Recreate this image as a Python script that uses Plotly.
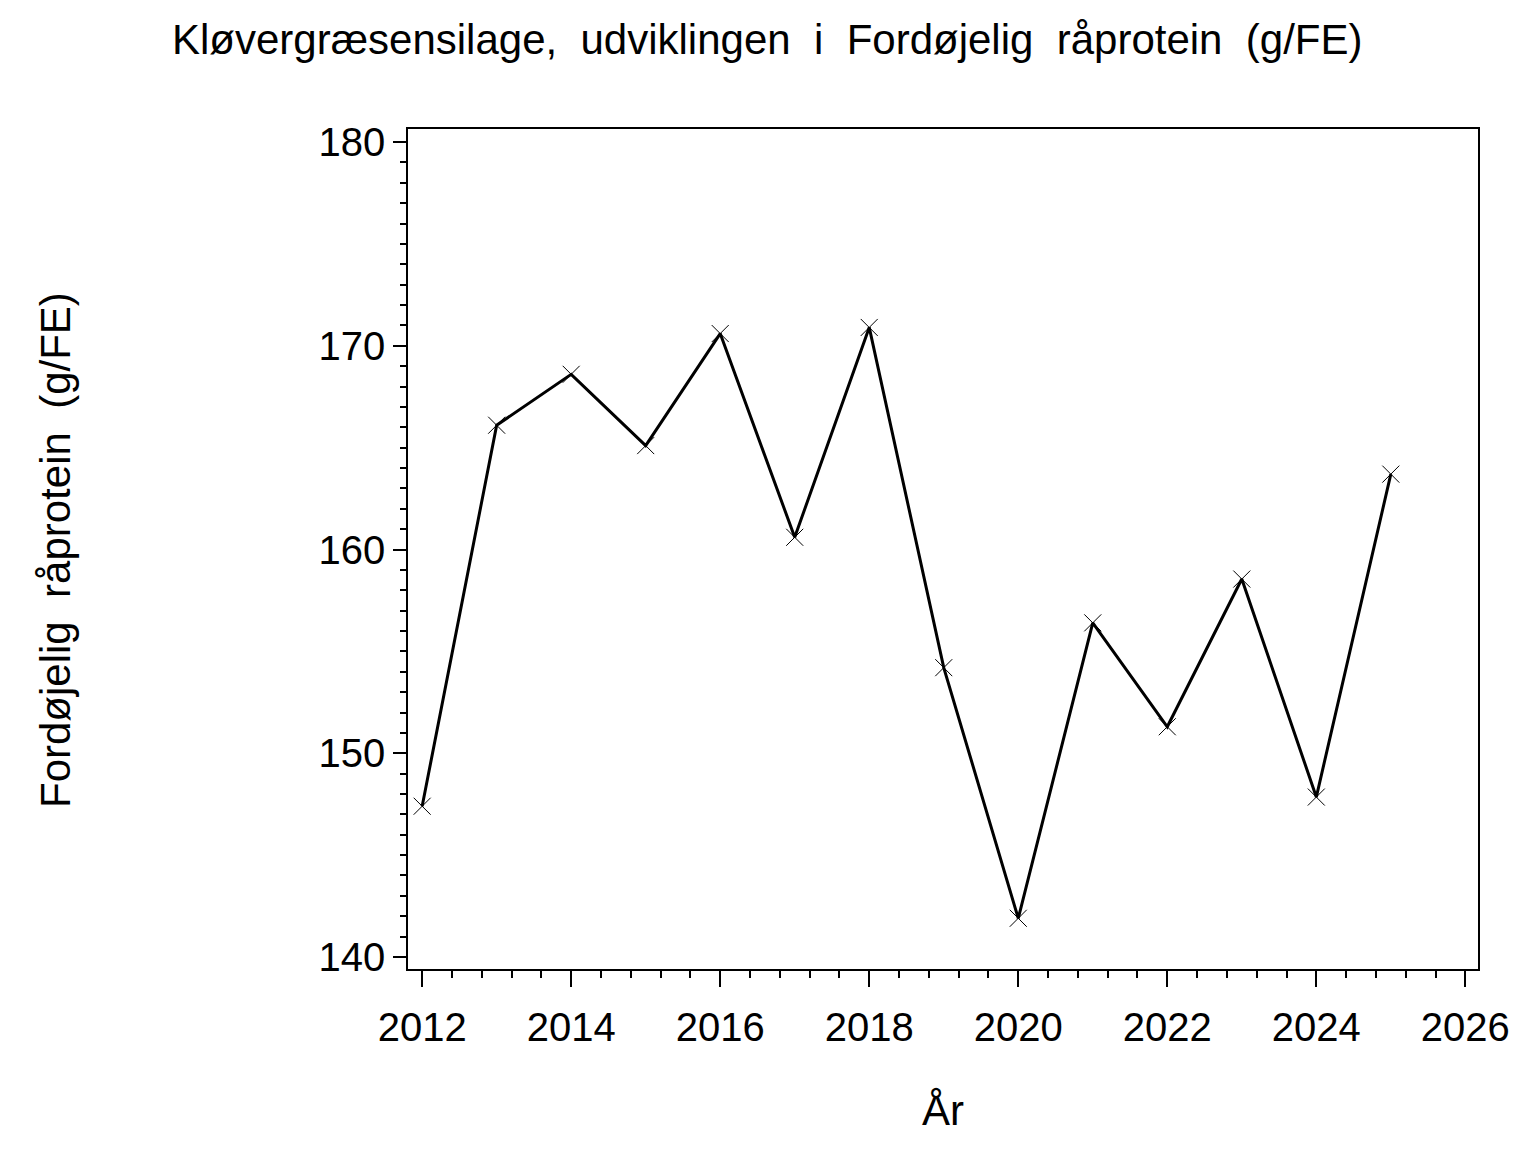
import plotly.graph_objects as go

years = [2012, 2013, 2014, 2015, 2016, 2017, 2018, 2019, 2020, 2021, 2022, 2023, 2024, 2025]
values = [147.4, 166.1, 168.6, 165.1, 170.6, 160.6, 170.9, 154.2, 141.9, 156.4, 151.3, 158.55, 147.85, 163.7]

x_ticks = [2012, 2014, 2016, 2018, 2020, 2022, 2024, 2026]
y_ticks = [140, 150, 160, 170, 180]

title_text = "Kløvergræsensilage,  udviklingen  i  Fordøjelig  råprotein  (g/FE)"
y_title = "Fordøjelig  råprotein  (g/FE)"
x_title = "År"

FONT = "Liberation Sans, Arial, sans-serif"

# page offset (body margin) of 8 px
OFF = 8
W, H = 1536, 1152
pl, pr, pt, pb = 408 - OFF, 1478 - OFF, 129 - OFF, 969 - OFF

fig = go.Figure()
fig.add_trace(go.Scatter(
    x=years, y=values, mode="lines+markers",
    line=dict(color="black", width=3),
    marker=dict(symbol="x-thin", size=17, line=dict(color="black", width=1)),
    showlegend=False,
))

fig.update_layout(
    width=W, height=H,
    margin=dict(l=pl, r=W - pr, t=pt, b=H - pb),
    paper_bgcolor="white", plot_bgcolor="white",
    font=dict(family=FONT, color="black", size=40),
)

def px(x): return (x - OFF - pl) / (pr - pl)
def py(y): return (pb - (y - OFF)) / (pb - pt)

fig.add_annotation(text=title_text.replace("  ", "\u00a0 "), x=px(767), y=py(40), xref="paper", yref="paper",
                   showarrow=False, font=dict(size=42), xanchor="center", yanchor="middle")
fig.add_annotation(text=y_title.replace("  ", "\u00a0 "), x=px(55), y=py(550), xref="paper", yref="paper",
                   showarrow=False, textangle=-90, font=dict(size=42), xanchor="center", yanchor="middle")
fig.add_annotation(text=x_title, x=px(943), y=py(1110), xref="paper", yref="paper",
                   showarrow=False, font=dict(size=42), xanchor="center", yanchor="middle")

fig.update_xaxes(
    range=[2011.81, 2026.17], tickvals=x_ticks, ticktext=[str(v) for v in x_ticks],
    showgrid=False, zeroline=False, showline=True, linecolor="black", linewidth=1.5, mirror=True,
    ticks="outside", ticklen=16, tickwidth=1.5, tickcolor="black", ticklabelstandoff=6,
    tickfont=dict(size=40),
    minor=dict(tick0=2012, dtick=0.4, ticks="outside", ticklen=7, tickwidth=1.5, tickcolor="black", showgrid=False),
)
fig.update_yaxes(
    range=[139.41, 180.64], tickvals=y_ticks, ticktext=[str(v) for v in y_ticks],
    showgrid=False, zeroline=False, showline=True, linecolor="black", linewidth=1.5, mirror=True,
    ticks="outside", ticklen=13, tickwidth=1.5, tickcolor="black", ticklabelstandoff=0,
    tickfont=dict(size=40),
    minor=dict(tick0=140, dtick=1, ticks="outside", ticklen=6, tickwidth=1.5, tickcolor="black", showgrid=False),
)

fig.write_html("out.html")
